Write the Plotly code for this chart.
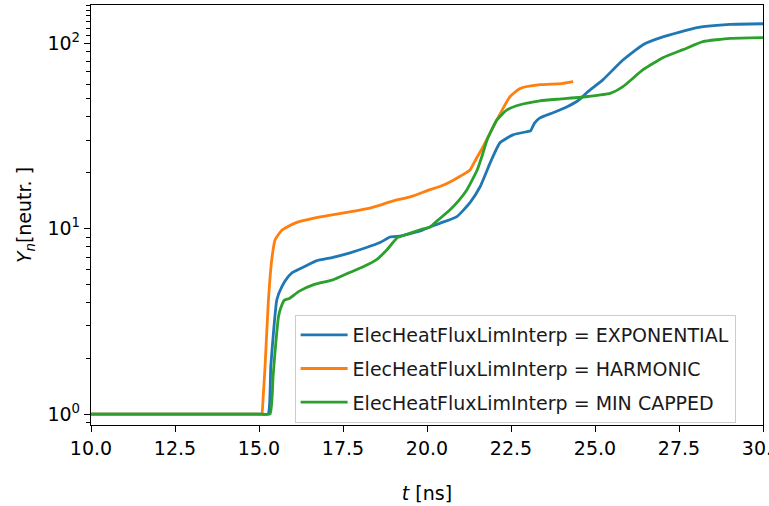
import plotly.graph_objects as go

# ---- data ----
exp_t = [10, 14.0, 15.0, 15.27, 15.35, 15.43, 15.53, 15.68, 15.87, 16.0, 16.4, 16.7, 17.2, 17.71, 18.2, 18.6, 18.9,
         19.2, 19.5, 19.8, 20.09, 20.4, 20.89, 21.28, 21.58, 21.88, 22.17, 22.56, 22.98, 23.08, 23.2,
         23.36, 23.75, 24.17, 24.5, 24.79, 25.24, 25.83, 26.43, 27.02, 28.04, 29.02, 30.0]
exp_y = [1, 1, 1, 1, 1.8, 2.74, 4.13, 4.86, 5.5, 5.8, 6.3, 6.7, 7.0, 7.4, 7.9, 8.4, 9.0,
         9.1, 9.4, 9.7, 10.2, 10.7, 11.6, 13.8, 16.8, 22.6, 29.0, 32.0, 33.3, 33.6, 37.0,
         39.5, 42.1, 45.4, 49.0, 54.7, 63.5, 81.0, 98.0, 108.0, 121.0, 126.0, 127.0]

harm_t = [10, 14.0, 14.9, 15.08, 15.12, 15.18, 15.28, 15.38, 15.48, 15.68, 16.07, 16.67, 17.0, 17.7, 18.3, 18.5,
          19.0, 19.5, 20.09, 20.4, 20.7, 21.0, 21.28, 21.45, 21.67, 22.08, 22.47, 22.77,
          23.36, 24.0, 24.35]
harm_y = [1, 1, 1, 1, 1.2, 1.8, 4.1, 6.8, 8.7, 9.8, 10.7, 11.4, 11.7, 12.3, 12.9, 13.2,
          14.1, 14.8, 16.2, 16.9, 17.9, 19.2, 20.7, 23.5, 27.6, 38.5, 51.4, 56.9,
          59.6, 60.5, 62.0]

min_t = [10, 14.0, 15.05, 15.33, 15.42, 15.48, 15.58, 15.63, 15.75, 15.9, 16.2, 16.65, 17.2, 17.7, 18.1, 18.5, 18.81,
         19.11, 19.4, 19.8, 20.09, 20.3, 20.68, 20.95, 21.19, 21.49, 21.65, 21.79, 22.08, 22.38,
         22.77, 23.36, 24.0, 24.79, 25.45, 25.83, 26.43, 27.02, 27.62, 28.21, 29.02, 30.0]
min_y = [1, 1, 1, 1, 1.6, 2.2, 3.35, 3.65, 4.1, 4.2, 4.6, 5.0, 5.29, 5.8, 6.22, 6.8, 7.69,
         8.9, 9.3, 9.85, 10.2, 11.0, 12.6, 14.2, 16.2, 20.6, 25.0, 30.1, 38.5, 43.6,
         46.5, 48.8, 50.0, 51.5, 53.5, 58.2, 71.8, 83.3, 92.1, 101.7, 106.0, 107.0]

series_names = ["ElecHeatFluxLimInterp = EXPONENTIAL",
                "ElecHeatFluxLimInterp = HARMONIC",
                "ElecHeatFluxLimInterp = MIN CAPPED"]
colors = ["#1f77b4", "#ff7f0e", "#2ca02c"]

x_ticks = [10.0, 12.5, 15.0, 17.5, 20.0, 22.5, 25.0, 27.5, 30.0]
y_ticks = [1, 10, 100]
y_ticktext = ["10<sup>0</sup>", "10<sup>1</sup>", "10<sup>2</sup>"]
y_minor = [0.9] + [m * d for d in (1, 10) for m in range(2, 10)] + [110, 120, 130, 140, 150, 160]

fig = go.Figure()
for i, (t, y) in enumerate([(exp_t, exp_y), (harm_t, harm_y), (min_t, min_y)]):
    fig.add_trace(go.Scatter(x=t, y=y, mode="lines", name=series_names[i],
                             line=dict(color=colors[i], width=2.8, shape="spline", smoothing=0.45),
                             legendgroup=str(i)))

font = "DejaVu Sans"
FS = 19
fig.update_layout(
    width=769, height=506,
    margin=dict(l=91, r=6, t=5, b=81),
    paper_bgcolor="white", plot_bgcolor="white",
    font=dict(family=font, size=FS, color="black"),
    showlegend=True,
    legend=dict(x=0.303, y=0.262, xanchor="left", yanchor="top",
                bgcolor="rgba(255,255,255,0.8)", bordercolor="#cccccc", borderwidth=1,
                font=dict(family=font, size=FS, color="#1a1a1a"),
                tracegroupgap=6, itemwidth=47),
)
fig.update_xaxes(
    range=[10, 30], tickvals=x_ticks, ticktext=[f"{v:.1f}" for v in x_ticks],
    showgrid=False, zeroline=False, showline=True, linecolor="black", linewidth=1.3,
    mirror=True, ticks="outside", ticklen=6, tickwidth=1.3, tickcolor="black",
    tickfont=dict(family=font, size=FS), automargin=False, ticklabeloverflow="allow",
    title=dict(text="<i>t</i> [ns]", font=dict(family=font, size=FS), standoff=28),
)
fig.update_yaxes(
    type="log", range=[-0.059, 2.205], tickvals=y_ticks, ticktext=y_ticktext,
    showgrid=False, zeroline=False, showline=True, linecolor="black", linewidth=1.3,
    mirror=True, ticks="outside", ticklen=6, tickwidth=1.3, tickcolor="black",
    tickfont=dict(family=font, size=FS), automargin=False,
    minor=dict(tickvals=y_minor, ticks="outside", ticklen=4, tickwidth=1, tickcolor="black",
               showgrid=False),
    title=dict(text="<i>Y</i><sub><i>n</i></sub>[neutr. ]", font=dict(family=font, size=FS), standoff=10),
)

fig.write_html("out.html", config={"displayModeBar": False},
               post_script="document.body.style.margin='0';")
